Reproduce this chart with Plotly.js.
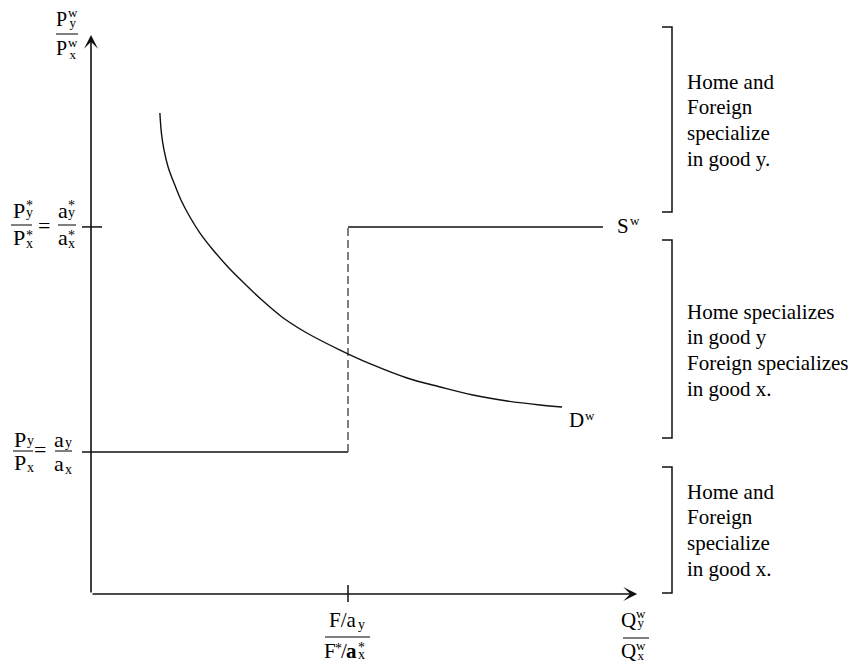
<!DOCTYPE html>
<html>
<head>
<meta charset="utf-8">
<script src="https://cdn.plot.ly/plotly-3.0.1.min.js"></script>
<style>html,body{margin:0;padding:0;background:#fff;}#chart{width:852px;height:663px;}</style>
</head>
<body>
<div id="chart"></div>
<script>
// ---- data (abstract units: F/a_y = 1 on the quantity axis, a_y/a_x = 1 on the price axis) ----
const qKink = 1.0;                 // F/a_y = F*/a_x*
const pHome = 1.0;                 // Py/Px = ay/ax
const pForeign = 2.585;            // Py*/Px* = ay*/ax*
const supplyQ = [-0.035, 1.0, 1.0, 1.992];
const supplyP = [1.0, 1.0, 2.585, 2.585];
const demandQ = [0.268,0.274,0.284,0.300,0.323,0.350,0.385,0.424,0.475,0.533,0.595,0.665,0.743,0.840,0.969,1.097,1.230,1.358,1.486,1.619,1.747,1.833];
const demandP = [3.387,3.246,3.127,3.007,2.894,2.775,2.655,2.542,2.423,2.303,2.190,2.070,1.951,1.838,1.718,1.613,1.521,1.458,1.401,1.359,1.331,1.317];
const axisMaxQ = 2.125;
const axisMaxP = 3.937;
const regionTexts = [
  ['Home and', 'Foreign', 'specialize', 'in good y.'],
  ['Home specializes', 'in good y', 'Foreign specializes', 'in good x.'],
  ['Home and', 'Foreign', 'specialize', 'in good x.']
];

const W = 852, H = 663;
const SERIF = '"Liberation Serif", "Times New Roman", serif';
const INK = '#111';
function px(x){ return x / W; }
function py(y){ return 1 - y / H; }

const ann = [];
const shapes = [];
function glyph(text, cx, cy, size){
  ann.push({xref:'paper', yref:'paper', x:px(cx), y:py(cy), xanchor:'center', yanchor:'middle', borderpad:0,
    text:text, showarrow:false, font:{family:SERIF, size:size, color:'#000'}});
}
// stacked superscript over subscript, given both baselines (pixels)
function stack(top, bottom, cx, b1, b2, size){
  const fs = (b2 - b1) / 1.3;
  const cy = ((b1 - 0.891 * size) + (b2 + 0.216 * size)) / 2;
  ann.push({xref:'paper', yref:'paper', x:px(cx), y:py(cy), xanchor:'center', yanchor:'middle', borderpad:0,
    align:'center', showarrow:false, font:{family:SERIF, size:fs, color:'#000'},
    text:`<span style="font-size:${size}px">${top}</span><br><span style="font-size:${size}px">${bottom}</span>`});
}
function bar(x0, x1, y){
  shapes.push({type:'line', xref:'paper', yref:'paper', x0:px(x0), x1:px(x1), y0:py(y), y1:py(y),
    line:{color:'#000', width:1}});
}
function bracket(top, bottom){
  shapes.push({type:'path', xref:'paper', yref:'paper',
    path:`M ${px(662)},${py(top)} L ${px(672)},${py(top)} L ${px(672)},${py(bottom)} L ${px(662)},${py(bottom)}`,
    line:{color:INK, width:1.5}});
}

// axis label (top)
glyph('P', 62, 18.5, 20); stack('w', 'y', 73, 16.6, 26.6, 13);
bar(56, 78, 34);
glyph('P', 62, 48.5, 20); stack('w', 'x', 73, 46.6, 58.4, 13);

// foreign autarky price label
glyph('P', 18.5, 210.5, 22); stack('*', 'y', 29.5, 210.7, 217.7, 14);
bar(11, 32, 225);
glyph('P', 18.5, 237.5, 22); stack('*', 'x', 29.5, 240.2, 247.7, 14);
glyph('=', 44, 225, 22);
glyph('a', 62.5, 210.6, 22); stack('*', 'y', 71.5, 210.7, 217.7, 14);
bar(58, 76, 225);
glyph('a', 62.5, 237.6, 22); stack('*', 'x', 71.5, 240.2, 247.7, 14);

// home autarky price label
glyph('P', 20, 439.5, 22); glyph('y', 30, 440, 14);
bar(13, 33, 451);
glyph('P', 20, 462.5, 22); glyph('x', 30, 467, 14);
glyph('=', 40, 449, 22);
glyph('a', 59, 439.6, 22); glyph('y', 68, 442, 14);
bar(55, 72, 451);
glyph('a', 59, 463.6, 22); glyph('x', 68, 469, 14);

// x tick label
glyph('F/a', 342.5, 619.5, 21); glyph('y', 361.5, 624, 14);
bar(325, 370, 637);
glyph('F', 330, 651, 21); glyph('*', 338.5, 648.5, 14); glyph('/', 343.5, 651, 21);
glyph('<b>a</b>', 351.5, 651, 21); stack('*', 'x', 361, 652.7, 659.7, 14);

// x axis label
glyph('Q', 628.5, 619.5, 21); stack('w', 'y', 640.5, 617.9, 626.9, 13);
bar(623, 649, 638);
glyph('Q', 628.5, 651, 21); stack('w', 'x', 640.5, 650.4, 659.9, 13);

// curve labels
glyph('S', 622.5, 225.5, 21); glyph('w', 635, 220.6, 13);
glyph('D', 576.5, 419.5, 21); glyph('w', 590, 415, 13);

// region brackets + texts
bracket(27, 212); bracket(240, 438); bracket(467, 593);
const firstLine = [81.5, 311.5, 491.5];
regionTexts.forEach((lines, i) => {
  lines.forEach((t, j) => {
    ann.push({xref:'paper', yref:'paper', x:px(686), y:py(firstLine[i] + j * 25.7), xanchor:'left', yanchor:'middle',
      borderpad:0, align:'left', text:t, showarrow:false, font:{family:SERIF, size:21, color:'#000'}});
  });
});

// axes with arrowheads
ann.push({xref:'x', yref:'y', axref:'x', ayref:'y', x:0, y:axisMaxP, ax:0, ay:0, text:'', showarrow:true,
  arrowhead:3, arrowsize:1.45, arrowwidth:1.6, arrowcolor:INK, standoff:0});
ann.push({xref:'x', yref:'y', axref:'x', ayref:'y', x:axisMaxQ, y:0, ax:0, ay:0, text:'', showarrow:true,
  arrowhead:3, arrowsize:1.45, arrowwidth:1.6, arrowcolor:INK, standoff:0});

// tick marks
shapes.push({type:'line', xref:'x', yref:'y', x0:-0.035, x1:0.043, y0:pForeign, y1:pForeign, line:{color:INK, width:1.5}});
shapes.push({type:'line', xref:'x', yref:'y', x0:qKink, x1:qKink, y0:0.063, y1:-0.056, line:{color:INK, width:1.5}});

const traces = [
  {x:supplyQ.slice(0,2), y:supplyP.slice(0,2), mode:'lines', line:{color:INK, width:1.5}, hoverinfo:'skip'},
  {x:supplyQ.slice(1,3), y:supplyP.slice(1,3), mode:'lines', line:{color:'#555', width:1.5, dash:'8px,4px'}, hoverinfo:'skip'},
  {x:supplyQ.slice(2,4), y:supplyP.slice(2,4), mode:'lines', line:{color:INK, width:1.5}, hoverinfo:'skip'},
  {x:demandQ, y:demandP, mode:'lines', line:{color:INK, width:1.4, shape:'spline'}, hoverinfo:'skip'}
];

const layout = {
  width: W, height: H,
  margin: {l:0, r:0, t:0, b:0},
  paper_bgcolor: '#fff', plot_bgcolor: '#fff',
  showlegend: false,
  xaxis: {range:[-91/257, 761/257], visible:false, fixedrange:true},
  yaxis: {range:[-69/142, 594/142], visible:false, fixedrange:true},
  annotations: ann,
  shapes: shapes
};
Plotly.newPlot('chart', traces, layout, {staticPlot:true, displayModeBar:false});
</script>
</body>
</html>
